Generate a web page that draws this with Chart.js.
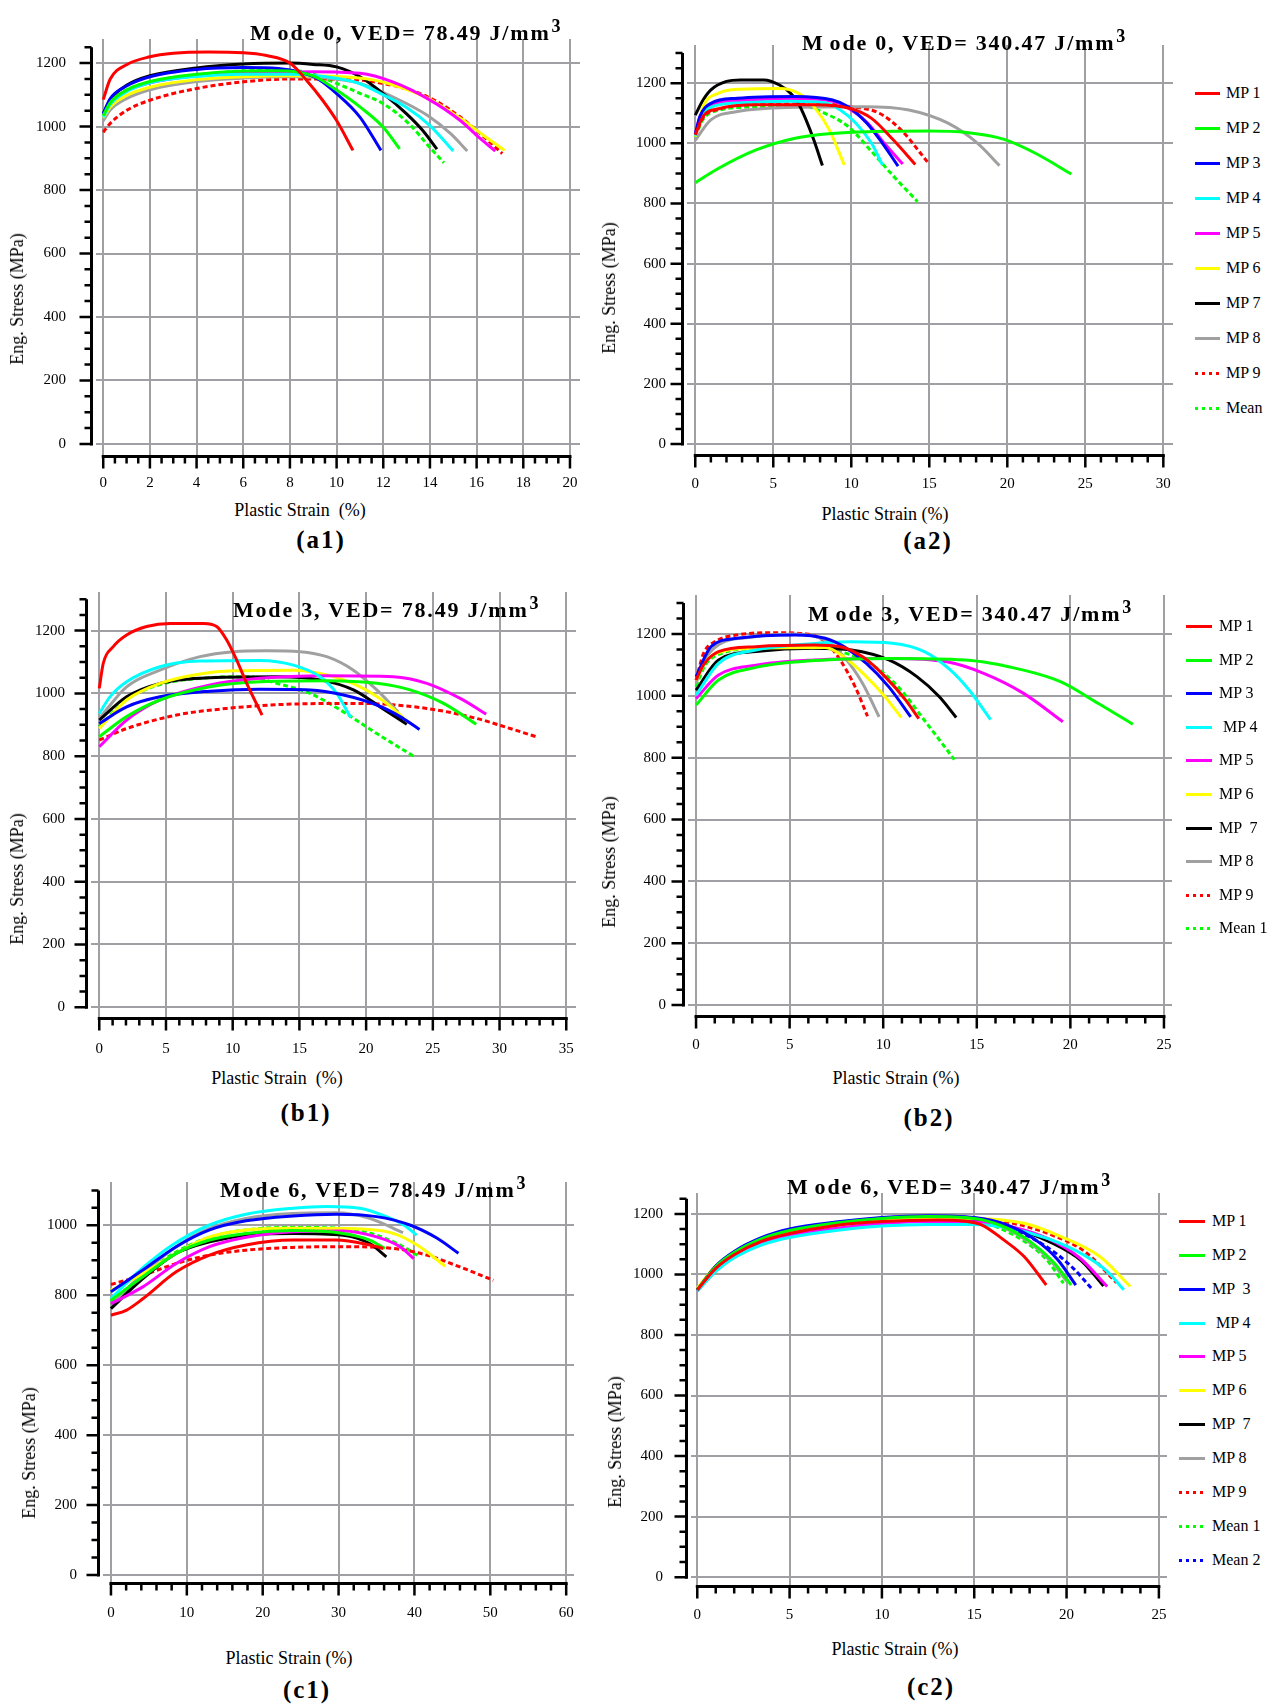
<!DOCTYPE html>
<html>
<head>
<meta charset="utf-8">
<script src="https://cdn.jsdelivr.net/npm/chart.js@4.4.1/dist/chart.umd.min.js"></script>
<style>
  body { margin: 0; width: 1280px; height: 1707px; background: #fff; position: relative; overflow: hidden; font-family: "Liberation Serif", serif; color: #000; }
  canvas { position: absolute; }
  .title { position: absolute; font: bold 22px "Liberation Serif"; letter-spacing: 1.8px; line-height: 22px; white-space: pre; }
  .title .gap { margin-left: 5px; }
  .title sup { font-size: 18px; position: relative; top: -8px; vertical-align: baseline; margin-left: 1px; }
  .axis-title { position: absolute; font-size: 18px; line-height: 18px; white-space: pre; transform: translate(-50%, -50%); }
  .axis-title.vertical { transform: translate(-50%, -50%) rotate(-90deg); }
  .panel-label { position: absolute; font: bold 25px "Liberation Serif"; letter-spacing: 2px; transform: translate(-50%, -50%); }
  .legend-item { position: absolute; height: 18px; font-size: 16px; line-height: 18px; white-space: pre; }
  .legend-item i { position: absolute; left: 0; top: 8px; height: 3px; }
</style>
</head>
<body>
<script>
// stress-strain curves, points are [plastic strain %, eng. stress MPa]
// order in every panel: MP 1 ... MP 9, Mean (c2 has Mean 1, Mean 2)

// (a1) Mode 0, VED = 78.49
const a1Curves = [
  [[0,1085],[0.3,1150],[1,1195],[2,1220],[3,1231],[4.5,1235],[6,1233],[7,1224],[8,1200],[8.7,1147],[9.4,1083],[10,1019],[10.7,925]],
  [[0,1035],[0.3,1075],[1,1115],[2,1142],[4,1165],[6,1175],[7.5,1176],[9,1160],[10,1115],[11,1062],[12,998],[12.7,930]],
  [[0,1040],[0.3,1088],[1,1128],[2,1157],[4,1180],[6,1186],[7.5,1183],[8.5,1170],[9.2,1150],[10,1104],[11,1030],[11.9,925]],
  [[0,1030],[0.3,1070],[1,1110],[2,1138],[4,1158],[6,1165],[8,1165],[10,1152],[11,1135],[12,1100],[13,1060],[14,1003],[15,923]],
  [[0,1038],[0.3,1076],[1,1112],[2,1138],[4,1160],[6,1168],[9,1173],[11,1168],[12.4,1141],[13.9,1088],[15.3,1019],[16.1,966],[16.8,923]],
  [[0,1028],[0.3,1062],[1,1098],[2,1124],[4,1148],[6,1157],[8,1160],[10,1158],[11.5,1148],[12.4,1132],[13.9,1090],[15.3,1026],[16.3,972],[17.2,925]],
  [[0,1040],[0.3,1085],[1,1130],[2,1160],[4,1185],[6,1197],[8,1200],[9,1196],[10,1188],[11,1157],[12,1104],[13,1040],[13.7,987],[14.3,929]],
  [[0,1018],[0.3,1052],[1,1088],[2,1116],[4,1142],[6,1153],[8,1157],[10,1150],[11,1136],[12.4,1094],[13.9,1035],[14.9,977],[15.6,923]],
  [[0,982],[0.3,1010],[1,1051],[2,1083],[4,1120],[6,1141],[8,1150],[10,1150],[12,1136],[13.9,1094],[15.3,1030],[16.2,975],[17.1,915]],
  [[0,1035],[0.3,1075],[1,1115],[2,1140],[4,1162],[6,1175],[8,1177],[9,1165],[10,1136],[11,1105],[12,1072],[13.1,1009],[14,934],[14.6,886]],
];

// (a2) Mode 0, VED = 340.47
const a2Curves = [
  [[0,1028],[0.5,1090],[1.5,1115],[4,1128],[7.6,1128],[10,1115],[11.3,1083],[12.7,1011],[14.1,930]],
  [[0,869],[1.5,917],[3.9,978],[6.4,1017],[8.8,1033],[11.3,1039],[15,1041],[17.4,1036],[19.8,1013],[21.8,967],[24.1,898]],
  [[0,1030],[0.3,1090],[1,1133],[2.7,1150],[6.4,1156],[8.8,1144],[9.8,1122],[11,1067],[12,1000],[13,924]],
  [[0,1025],[0.3,1080],[1,1120],[3,1135],[6,1140],[8.3,1135],[9.3,1111],[10.3,1067],[11.3,1000],[12,928]],
  [[0,1030],[0.3,1088],[1,1128],[3,1143],[6.4,1148],[8.8,1140],[9.8,1118],[11,1070],[12.2,995],[13.3,931]],
  [[0,1022],[0.5,1122],[1.5,1167],[2.9,1180],[5.4,1182],[6.6,1167],[7.6,1122],[8.6,1044],[9.55,928]],
  [[0,1094],[0.5,1144],[1,1178],[2,1206],[2.9,1211],[4.4,1211],[5.4,1194],[6.1,1167],[6.6,1133],[7.1,1078],[7.6,1011],[8.15,926]],
  [[0,1010],[1,1078],[2.7,1106],[6.4,1120],[10.8,1122],[13.7,1111],[16.2,1067],[18.1,1000],[19.5,926]],
  [[0,1025],[0.5,1085],[1.5,1113],[4,1130],[7.6,1131],[10,1122],[11.8,1100],[13.2,1044],[14.9,937]],
  [[0,1020],[0.5,1080],[1.5,1110],[4,1122],[6.9,1124],[8.3,1100],[9.8,1056],[11.3,973],[12.7,891],[14.25,806]],
];

// (b1) Mode 3, VED = 78.49
const b1Curves = [
  [[0,1016],[0.3,1096],[1.05,1149],[2.05,1186],[3.55,1213],[5.3,1223],[7.8,1223],[8.8,1213],[9.55,1170],[10.3,1106],[11.05,1032],[12.2,931]],
  [[0,862],[2.05,926],[4.55,979],[8.3,1021],[12.05,1037],[17.05,1040],[20.8,1032],[23.3,1011],[25.8,968],[28.25,902]],
  [[0,904],[2.05,957],[4.55,989],[8.3,1007],[12.05,1013],[15.8,1011],[18.3,995],[20.8,963],[22.55,926],[24,885]],
  [[0,936],[0.8,989],[2.05,1037],[4.55,1085],[7.55,1103],[12.05,1105],[14.55,1090],[16.55,1053],[17.8,1000],[18.4,957],[18.85,923]],
  [[0,830],[2.05,915],[4.55,979],[8.3,1027],[12.05,1048],[17.05,1056],[22.05,1053],[24.55,1032],[27.05,984],[29,934]],
  [[0,888],[2.05,979],[4.55,1032],[7.55,1062],[10.05,1072],[14.55,1074],[17.05,1059],[19.55,1021],[21.55,968],[23.1,910]],
  [[0,915],[2.05,989],[4.55,1032],[8.3,1050],[13.3,1053],[16.55,1043],[19.05,1011],[21.05,957],[23.05,902]],
  [[0,920],[2.05,1021],[4.55,1074],[7.55,1117],[10.05,1133],[12.55,1136],[15.05,1133],[17.05,1117],[19.05,1074],[20.8,1011],[22.4,941]],
  [[0,851],[2.05,888],[5.8,931],[9.55,952],[14.55,966],[19.55,968],[24.55,952],[28.3,920],[30.8,888],[32.9,860]],
  [[0,894],[2.05,980],[4.55,1028],[8.3,1050],[11.05,1053],[13.3,1032],[15.8,1000],[18.3,941],[20.8,872],[23.55,800]],
];

// (b2) Mode 3, VED = 340.47
const b2Curves = [
  [[0,1051],[0.4,1100],[1.2,1143],[3.2,1159],[6.3,1164],[7.7,1159],[8.9,1126],[10.1,1062],[11.2,986],[11.9,926]],
  [[0,970],[1.2,1051],[3.2,1092],[6.3,1114],[10.3,1121],[14.4,1116],[17.5,1083],[19.5,1045],[21.5,975],[23.34,908]],
  [[0,1062],[0.8,1159],[2.2,1186],[5.3,1197],[6.9,1186],[7.9,1159],[9.1,1105],[10.3,1029],[11.47,932]],
  [[0,1002],[1.2,1105],[3.2,1148],[5.3,1164],[8.3,1175],[10.5,1170],[12.2,1143],[13.6,1083],[14.6,1018],[15.74,923]],
  [[0,991],[1.2,1067],[3.2,1099],[6.3,1116],[10.3,1121],[13.4,1110],[15.4,1072],[17.5,1008],[19.6,916]],
  [[0,1050],[0.5,1110],[1.5,1145],[3.2,1154],[6.9,1156],[7.9,1126],[9.1,1062],[10.1,997],[10.96,930]],
  [[0,1018],[1.2,1116],[3.2,1143],[6.3,1154],[8.3,1148],[10.3,1116],[11.8,1062],[13,997],[13.9,930]],
  [[0,1040],[0.4,1110],[1.2,1165],[3,1190],[5.2,1200],[6.9,1180],[7.9,1126],[8.9,1040],[9.78,932]],
  [[0,1051],[0.4,1137],[1,1175],[2.2,1197],[4.2,1204],[5.9,1200],[6.9,1175],[7.7,1116],[8.5,1029],[9.16,934]],
  [[0,1030],[0.5,1100],[1.5,1140],[3.2,1152],[6.9,1154],[7.7,1143],[9.3,1105],[10.8,1029],[12.2,921],[13.8,794]],
];

// (c1) Mode 6, VED = 78.49
const c1Curves = [
  [[0,743],[2,757],[4.2,790],[8.6,867],[13,915],[17.8,944],[24,958],[29.7,958],[34.1,944],[35.9,934]],
  [[0,786],[4.2,853],[8.6,920],[13,958],[17.8,977],[24,985],[30.6,977],[34.1,958],[36.1,934]],
  [[0,810],[4.2,872],[8.6,939],[13,987],[17.8,1013],[24,1027],[29.7,1032],[35,1025],[39.4,1001],[43,963],[45.8,920]],
  [[0,790],[2,834],[4.6,886],[8.1,944],[13,1001],[17.8,1032],[24,1049],[28.4,1054],[32.8,1049],[36.3,1025],[38.6,1001],[40.3,972]],
  [[0,776],[4.2,824],[8.6,891],[13,939],[17.8,966],[24,982],[30.6,984],[35,967],[38.1,939],[39.9,905]],
  [[0,814],[4.2,862],[8.6,920],[13,967],[17.8,987],[24,992],[30.6,991],[37.2,977],[40.7,939],[44.05,883]],
  [[0,762],[4.2,848],[8.6,920],[13,953],[17.8,972],[24,977],[30.6,972],[34.1,948],[36.3,910]],
  [[0,771],[4.2,862],[8.6,939],[13,991],[17.8,1020],[24,1034],[29.7,1036],[34.1,1020],[38.5,979]],
  [[0,831],[4.2,857],[8.6,891],[13,915],[17.8,929],[24,937],[30.6,939],[37.2,934],[41.6,915],[46,881],[50.4,843]],
  [[0,781],[4.2,857],[8.6,924],[13,966],[17.8,987],[24,994],[30.6,991],[35,972],[38.5,939],[40.7,910]],
];

// (c2) Mode 6, VED = 340.47
const c2Curves = [
  [[0,949],[1,1020],[2,1065],[3.5,1110],[5,1135],[7.5,1162],[10,1175],[13,1180],[14.5,1176],[15.4,1164],[16.6,1114],[17.7,1059],[18.9,965]],
  [[0,949],[1,1025],[2,1072],[3.5,1118],[5,1145],[7.5,1170],[10,1185],[12.5,1191],[15,1185],[16.5,1160],[18,1110],[19.3,1040],[20.25,965]],
  [[0,949],[1,1028],[2,1076],[3.5,1122],[5,1150],[7.5,1173],[10,1188],[12.5,1194],[15,1188],[16.7,1165],[18.3,1115],[19.5,1050],[20.5,965]],
  [[0,945],[1,1010],[2,1055],[3.5,1098],[5,1122],[7.5,1145],[10,1160],[12.5,1165],[15,1165],[17,1152],[19,1118],[21,1062],[22.2,1010],[23.1,949]],
  [[0,945],[1,1012],[2,1058],[3.5,1102],[5,1128],[7.5,1152],[10,1168],[12.5,1175],[15,1174],[17,1158],[19,1118],[20.7,1055],[22.2,960]],
  [[0,955],[1,1028],[2,1072],[3.5,1115],[5,1142],[7.5,1166],[10,1180],[12.5,1186],[15,1185],[17.7,1169],[19.7,1125],[21.8,1059],[23.45,960]],
  [[0,949],[1,1024],[2,1070],[3.5,1115],[5,1142],[7.5,1166],[10,1180],[12.5,1186],[15,1180],[17,1155],[19,1110],[20.8,1045],[22,962]],
  [[0,945],[1,1022],[2,1070],[3.5,1116],[5,1144],[7.5,1169],[10,1184],[12.5,1190],[15,1183],[16.6,1155],[18,1105],[19.2,1040],[20,978]],
  [[0,949],[1,1024],[2,1070],[3.5,1116],[5,1143],[7.5,1167],[10,1182],[12.5,1187],[15,1185],[17,1170],[19,1135],[21,1075],[22.7,973]],
  [[0,949],[1,1026],[2,1073],[3.5,1119],[5,1146],[7.5,1171],[10,1186],[12.5,1191],[15,1183],[16.3,1155],[17.7,1110],[18.9,1050],[19.83,971]],
  [[0,949],[1,1025],[2,1071],[3.5,1117],[5,1144],[7.5,1168],[10,1183],[12.5,1188],[15,1183],[17,1150],[18.7,1100],[20.2,1030],[21.4,951]],
];

// series names
const namesA = ["MP 1", "MP 2", "MP 3", "MP 4", "MP 5", "MP 6", "MP 7", "MP 8", "MP 9", "Mean"];
const namesB = ["MP 1", "MP 2", "MP 3", " MP 4", "MP 5", "MP 6", "MP  7", "MP 8", "MP 9", "Mean 1"];
const namesC = ["MP 1", "MP 2", "MP  3", " MP 4", "MP 5", "MP 6", "MP  7", "MP 8", "MP 9", "Mean 1", "Mean 2"];

// tick values
const xTicks20 = [0, 2, 4, 6, 8, 10, 12, 14, 16, 18, 20];
const xTicks25 = [0, 5, 10, 15, 20, 25];
const xTicks30 = [0, 5, 10, 15, 20, 25, 30];
const xTicks35 = [0, 5, 10, 15, 20, 25, 30, 35];
const xTicks60 = [0, 10, 20, 30, 40, 50, 60];
const yTicks1000 = [0, 200, 400, 600, 800, 1000];
const yTicks1200 = [0, 200, 400, 600, 800, 1000, 1200];

// line styles, MP 9 and the means are dotted
const seriesColors = ["#ff0000", "#00ff00", "#0000ff", "#00ffff", "#ff00ff", "#ffff00", "#000000", "#a0a0a0", "#ff0000", "#00ff00", "#0000ff"];
const dottedFrom = 8;
const gridColor = "#a0a0a4";
const tickFont = { family: "Liberation Serif", size: 15 };

// black offset axes with major and minor tick marks
const blackAxes = {
  id: "blackAxes",
  afterDraw(chart, args, opts) {
    const { ctx, chartArea } = chart;
    const xs = chart.scales.x, ys = chart.scales.y;
    const ax = chartArea.left - 4.5;
    const ay = chartArea.bottom + 1.5;
    const isMajor = (v, step) => Math.abs(v / step - Math.round(v / step)) < 1e-6;

    ctx.save();
    ctx.strokeStyle = "#000";
    ctx.lineWidth = 3;
    ctx.beginPath();
    ctx.moveTo(ax, ys.getPixelForValue(0) + 1.5);
    ctx.lineTo(ax, ys.getPixelForValue(opts.yTop));
    ctx.moveTo(xs.getPixelForValue(0) - 1.5, ay);
    ctx.lineTo(xs.getPixelForValue(opts.xTop) + 1.5, ay);
    ctx.stroke();

    ctx.lineWidth = 2.5;
    ctx.beginPath();
    for (let v = 0; v <= opts.yTop + 1e-6; v += opts.yMinor) {
      const py = ys.getPixelForValue(v);
      ctx.moveTo(ax, py);
      ctx.lineTo(ax - (isMajor(v, opts.yMajor) ? 12 : 7), py);
    }
    for (let v = 0; v <= opts.xTop + 1e-6; v += opts.xMinor) {
      const px = xs.getPixelForValue(v);
      ctx.moveTo(px, ay);
      ctx.lineTo(px, ay + (isMajor(v, opts.xMajor) ? 12 : 7));
    }
    ctx.stroke();
    ctx.restore();
  },
};

function MakePanel(p) {
  const [gx0, gy0, gx1, gy1] = p.area;
  const canvas = document.createElement("canvas");
  const top = gy0 - 4;
  canvas.width = gx1 + 4 - p.left;
  canvas.height = gy1 + 40 - top;
  canvas.style.left = p.left + "px";
  canvas.style.top = top + "px";
  document.body.appendChild(canvas);

  const datasets = p.curves.map((pts, i) => ({
    label: p.names[i],
    data: pts.map(([x, y]) => ({ x, y })),
    borderColor: seriesColors[i],
    borderWidth: 3,
    borderDash: i >= dottedFrom ? [5, 3] : [],
    pointRadius: 0,
    fill: false,
    cubicInterpolationMode: "monotone",
  }));

  new Chart(canvas.getContext("2d"), {
    type: "line",
    data: { datasets },
    options: {
      responsive: false,
      animation: false,
      layout: { padding: { top: 4, right: 4, left: 0, bottom: 0 } },
      plugins: {
        legend: { display: false },
        tooltip: { enabled: false },
        blackAxes: {
          xTop: p.xTicks[p.xTicks.length - 1],
          yTop: p.yTop,
          xMajor: p.xTicks[1] - p.xTicks[0],
          yMajor: p.yTicks[1] - p.yTicks[0],
          xMinor: p.xMinor,
          yMinor: p.yMinor,
        },
      },
      scales: {
        x: {
          type: "linear",
          min: p.xRange[0],
          max: p.xRange[1],
          afterBuildTicks: (s) => { s.ticks = p.xTicks.map((value) => ({ value })); },
          // fixed box so the plot area lands where it should
          afterFit: (s) => { s.height = 40; s.paddingLeft = 0; s.paddingRight = 0; },
          grid: { color: gridColor, lineWidth: 2, drawTicks: false },
          border: { display: false },
          ticks: { font: tickFont, color: "#000", padding: p.xPad, maxRotation: 0, autoSkip: false, callback: (v) => String(v) },
        },
        y: {
          type: "linear",
          min: p.yRange[0],
          max: p.yRange[1],
          afterBuildTicks: (s) => { s.ticks = p.yTicks.map((value) => ({ value })); },
          afterFit: (s) => { s.width = gx0 - p.left; s.paddingTop = 0; s.paddingBottom = 0; },
          grid: { color: gridColor, lineWidth: 2, drawTicks: false },
          border: { display: false },
          ticks: { font: tickFont, color: "#000", padding: p.yPad, autoSkip: false, callback: (v) => String(v) },
        },
      },
    },
    plugins: [blackAxes],
  });

  // title inside the plot
  const title = document.createElement("div");
  title.className = "title";
  title.style.left = p.titleAt[0] + "px";
  title.style.top = p.titleAt[1] - 18.4 + "px";
  if (p.titleGap) {
    title.append("M");
    const rest = document.createElement("span");
    rest.className = "gap";
    rest.textContent = p.title.slice(1);
    title.appendChild(rest);
  } else {
    title.append(p.title);
  }
  const sup = document.createElement("sup");
  sup.textContent = "3";
  title.appendChild(sup);
  document.body.appendChild(title);

  // axis titles and panel label
  AddText("axis-title vertical", "Eng. Stress (MPa)", p.yTitleAt);
  AddText("axis-title", p.xTitle, p.xTitleAt);
  AddText("panel-label", p.label, p.labelAt);

  if (p.legend) AddLegend(p.names, p.legend);
}

function AddText(cls, text, at) {
  const el = document.createElement("div");
  el.className = cls;
  el.textContent = text;
  el.style.left = at[0] + "px";
  el.style.top = at[1] + "px";
  document.body.appendChild(el);
}

function AddLegend(names, lg) {
  names.forEach((name, i) => {
    const item = document.createElement("div");
    item.className = "legend-item";
    item.style.left = lg.lineX + "px";
    item.style.top = lg.top + i * lg.step - 9 + "px";
    item.style.paddingLeft = lg.textX - lg.lineX + "px";
    const line = document.createElement("i");
    line.style.width = lg.lineW + "px";
    const c = seriesColors[i];
    line.style.background = i >= dottedFrom
      ? `repeating-linear-gradient(90deg, ${c} 0 3px, transparent 3px 7px)`
      : c;
    item.appendChild(line);
    item.append(name);
    document.body.appendChild(item);
  });
}

const panels = [
  {
    curves: a1Curves, names: namesA, left: 0, area: [96, 39, 580, 455],
    xRange: [-0.31, 20.43], yRange: [-35, 1276], xTicks: xTicks20, yTicks: yTicks1200,
    xMinor: 0.5, yMinor: 50, yTop: 1250, yPad: 30, xPad: 19,
    title: "Mode 0, VED= 78.49 J/mm", titleGap: true, titleAt: [250, 40],
    yTitleAt: [17, 299], xTitle: "Plastic Strain  (%)", xTitleAt: [300, 510],
    label: "(a1)", labelAt: [321, 540],
  },
  {
    curves: a2Curves, names: namesA, left: 590, area: [687, 45, 1173, 454],
    xRange: [-0.53, 30.62], yRange: [-33, 1327], xTicks: xTicks30, yTicks: yTicks1200,
    xMinor: 1, yMinor: 50, yTop: 1300, yPad: 21, xPad: 21,
    title: "Mode 0, VED= 340.47 J/mm", titleGap: true, titleAt: [802, 50],
    yTitleAt: [609, 288], xTitle: "Plastic Strain (%)", xTitleAt: [885, 514],
    label: "(a2)", labelAt: [928, 541],
    legend: { lineX: 1195, lineW: 25, textX: 1226, top: 93, step: 35 },
  },
  {
    curves: b1Curves, names: namesA, left: 0, area: [91, 592, 576, 1017],
    xRange: [-0.62, 35.73], yRange: [-31, 1323], xTicks: xTicks35, yTicks: yTicks1200,
    xMinor: 1, yMinor: 50, yTop: 1300, yPad: 26, xPad: 23,
    title: "Mode 3, VED= 78.49 J/mm", titleGap: false, titleAt: [233, 617],
    yTitleAt: [17, 879], xTitle: "Plastic Strain  (%)", xTitleAt: [277, 1078],
    label: "(b1)", labelAt: [306, 1113],
  },
  {
    curves: b2Curves, names: namesB, left: 590, area: [688, 595, 1172, 1015],
    xRange: [-0.43, 25.43], yRange: [-32, 1326], xTicks: xTicks25, yTicks: yTicks1200,
    xMinor: 1, yMinor: 50, yTop: 1300, yPad: 22, xPad: 21,
    title: "Mode 3, VED= 340.47 J/mm", titleGap: true, titleAt: [808, 621],
    yTitleAt: [609, 862], xTitle: "Plastic Strain (%)", xTitleAt: [896, 1078],
    label: "(b2)", labelAt: [929, 1118],
    legend: { lineX: 1186, lineW: 26, textX: 1219, top: 626, step: 33.6 },
  },
  {
    curves: c1Curves, names: namesA, left: 0, area: [103, 1182, 574, 1582],
    xRange: [-1.05, 61.03], yRange: [-20, 1124], xTicks: xTicks60, yTicks: yTicks1000,
    xMinor: 2, yMinor: 50, yTop: 1100, yPad: 26, xPad: 22,
    title: "Mode 6, VED= 78.49 J/mm", titleGap: false, titleAt: [220, 1197],
    yTitleAt: [29, 1453], xTitle: "Plastic Strain (%)", xTitleAt: [289, 1658],
    label: "(c1)", labelAt: [307, 1690],
  },
  {
    curves: c2Curves, names: namesC, left: 590, area: [691, 1193, 1167, 1585],
    xRange: [-0.34, 25.44], yRange: [-26, 1269], xTicks: xTicks25, yTicks: yTicks1200,
    xMinor: 1, yMinor: 50, yTop: 1250, yPad: 28, xPad: 21,
    title: "Mode 6, VED= 340.47 J/mm", titleGap: true, titleAt: [787, 1194],
    yTitleAt: [615, 1442], xTitle: "Plastic Strain (%)", xTitleAt: [895, 1649],
    label: "(c2)", labelAt: [931, 1687],
    legend: { lineX: 1179, lineW: 26, textX: 1212, top: 1221, step: 33.86 },
  },
];

panels.forEach(MakePanel);
</script>
</body>
</html>
